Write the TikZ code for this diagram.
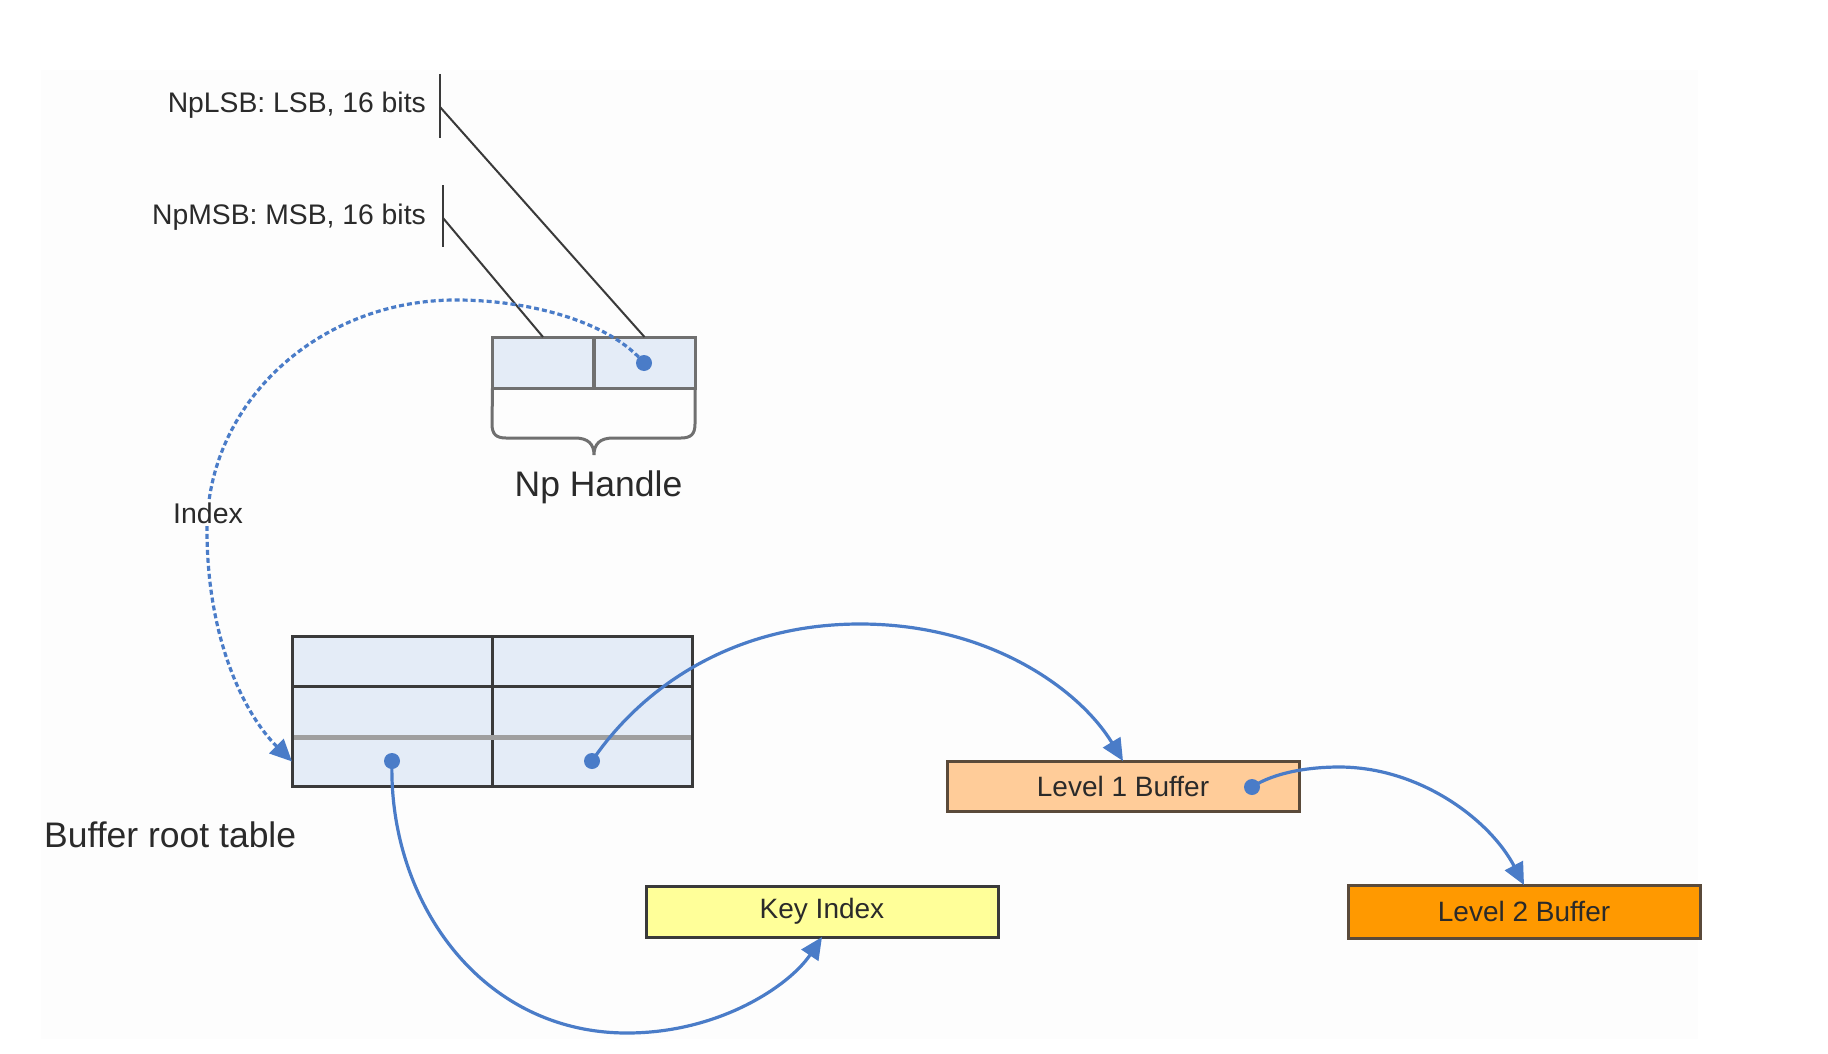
\documentclass[tikz,border=0pt]{standalone}
\usepackage{fontspec}
\setmainfont{Liberation Sans}
\usetikzlibrary{arrows.meta}
\definecolor{bgc}{HTML}{FDFDFD}
\definecolor{cellc}{HTML}{E4ECF7}
\definecolor{blu}{HTML}{4A7CC8}
\definecolor{lnc}{HTML}{3A3A3A}
\definecolor{hlc}{HTML}{707070}
\definecolor{ykey}{HTML}{FFFF99}
\definecolor{peach}{HTML}{FFCC99}
\definecolor{orng}{HTML}{FF9900}
\definecolor{txt}{HTML}{2A2A2A}
\definecolor{brn}{HTML}{5A4A3A}
\begin{document}
\begin{tikzpicture}[x=1pt,y=-1pt,
  cellbox/.style={draw=lnc,line width=3pt,fill=cellc,minimum width=200pt,minimum height=50pt,inner sep=0pt,outer sep=0pt},
  hcell/.style={draw=hlc,line width=3pt,fill=cellc,minimum width=101pt,minimum height=51pt,inner sep=0pt,outer sep=0pt},
  bufbox/.style={line width=3pt,minimum width=352pt,inner sep=0pt,outer sep=0pt,text=txt,font=\fontsize{28}{32}\selectfont},
  lbl/.style={text=txt,inner sep=0pt,font=\fontsize{28.3}{32}\selectfont},
  biglbl/.style={text=txt,inner sep=0pt,font=\fontsize{35.5}{40}\selectfont},
  dotn/.style={circle,fill=blu,minimum size=16pt,inner sep=0pt},
  bluearrow/.style={draw=blu,line width=3.2pt,-{Triangle[length=22pt,width=20pt]}},
  tickline/.style={draw=lnc,line width=2.5pt},
  leader/.style={draw=lnc,line width=2pt}
]
\useasboundingbox (0,0) rectangle (1828,1054);
\fill[white] (0,0) rectangle (1828,1054);
\fill[bgc] (41,70) rectangle (1698,1039);

% Np Handle
\node[hcell] (h1) at (543,362.5) {};
\node[hcell] (h2) at (644.5,362.5) {};
\draw[hlc,line width=3pt] (h1.south west) -- (492,424) .. controls (492,434) and (496,438) .. (506,438) -- (575,438)
  .. controls (588,438) and (594,444) .. (594,455) .. controls (594,444) and (600,438) .. (613,438) -- (681,438)
  .. controls (691,438) and (695,434) .. (695,424) -- (h2.south east);
\node[biglbl,anchor=base] (nph) at (598.5,496) {Np Handle};

% labels with ticks
\node[lbl,anchor=base east] (lsb) at (426,113) {NpLSB: LSB, 16 bits};
\node[lbl,anchor=base east] (msb) at (426,224) {NpMSB: MSB, 16 bits};
\coordinate (lsbt1) at (440,74);
\coordinate (lsbt2) at (440,138);
\coordinate (lsbk) at (440,107);
\coordinate (msbt1) at (443,185);
\coordinate (msbt2) at (443,247);
\coordinate (msbk) at (443,218);
\draw[tickline] (lsbt1) -- (lsbt2);
\draw[tickline] (msbt1) -- (msbt2);
\draw[leader] (lsbk) -- (h2.north);
\draw[leader] (msbk) -- (h1.north);

% Buffer root table
\node[cellbox] (t11) at (392,661) {};
\node[cellbox] (t12) at (592,661) {};
\node[cellbox] (t21) at (392,711.5) {};
\node[cellbox] (t22) at (592,711.5) {};
\node[cellbox,minimum height=49pt] (t31) at (392,761.5) {};
\node[cellbox,minimum height=49pt] (t32) at (592,761.5) {};
\draw[color=gray!75,line width=5pt] (t31.north west) -- (t32.north east);
\draw[lnc,line width=3pt] (t11.north west) rectangle (t32.south east);
\node[biglbl,anchor=base west] (brt) at (44,847) {Buffer root table};

% buffers
\node[bufbox,draw=lnc,fill=ykey,minimum height=51pt] (ki) at (822,911.5) {Key Index};
\node[bufbox,draw=brn,fill=peach,minimum height=50pt] (l1) at (1123,786) {Level 1 Buffer};
\node[bufbox,draw=brn,fill=orng,minimum height=53pt] (l2) at (1524,911.5) {Level 2 Buffer};

% dots
\node[dotn] (hd) at (644,363) {};
\node[dotn] (d31) at (392,761) {};
\node[dotn] (d32) at (592,761) {};
\node[dotn] (dl1) at (1252,787) {};

% dotted index arc
\draw[bluearrow,dash pattern=on 5pt off 3pt] (hd.center) .. controls (610,322) and (530,300) .. (456,300)
  .. controls (318,300) and (207,403) .. (207,530) .. controls (207,640) and (245,715) .. (t31.west);
\node[lbl,fill=bgc,inner sep=3pt,font=\fontsize{28.5}{32}\selectfont] (idx) at (208,513) {Index};

% solid arrows
\draw[bluearrow] (d31.center) .. controls (388,900) and (480,1033) .. (627,1033)
  .. controls (720,1033) and (790,985) .. (ki.south);
\draw[bluearrow] (d32.center) .. controls (640,690) and (730,624) .. (860,624)
  .. controls (990,624) and (1080,690) .. (l1.north);
\draw[bluearrow] (dl1.center) .. controls (1275,772) and (1310,767) .. (1339,767)
  .. controls (1420,767) and (1490,820) .. (l2.north);
\end{tikzpicture}
\end{document}
